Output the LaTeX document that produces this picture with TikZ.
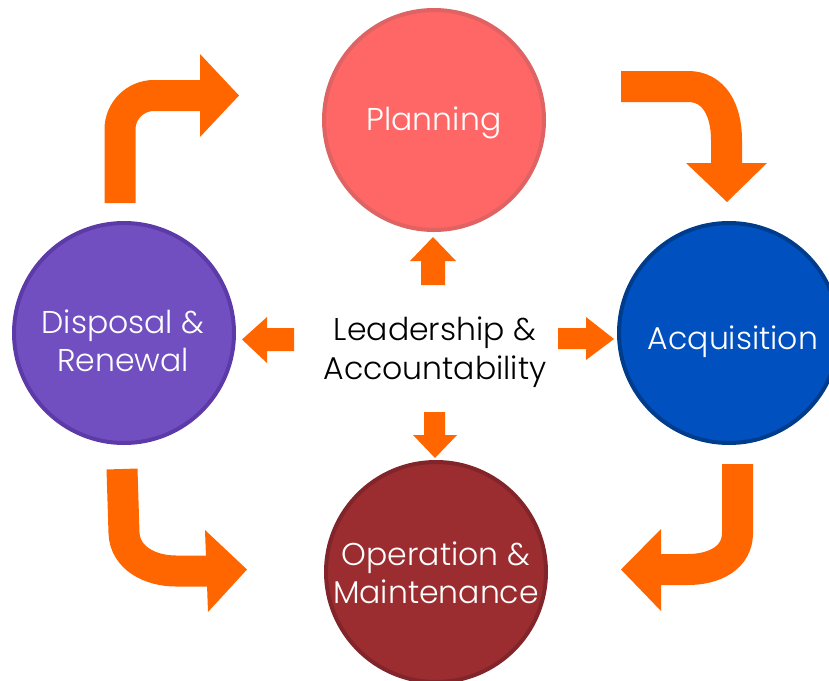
\documentclass[tikz,border=0pt]{standalone}
\usepackage{fontspec}
\setmainfont{Poppins}[UprightFont={* Light}]
\begin{document}
\definecolor{arroworange}{HTML}{FF6600}
\definecolor{planfill}{HTML}{FF6666}
\definecolor{planline}{HTML}{E06363}
\definecolor{acqfill}{HTML}{0050BF}
\definecolor{acqline}{HTML}{003C8C}
\definecolor{dispfill}{HTML}{714FC0}
\definecolor{displine}{HTML}{5C3BA8}
\definecolor{opfill}{HTML}{9B2D30}
\definecolor{opline}{HTML}{82252A}
\begin{tikzpicture}[x=1pt,y=-1pt,
  stage/.style={circle,minimum size=220pt,inner sep=0pt,line width=4pt},
  stagetext/.style={text=white,align=center,inner sep=0pt,
    font=\fontsize{31.5}{38}\selectfont},
  bentshaft/.style={draw=arroworange,line width=31pt,line cap=butt},
  blockhead/.style={fill=arroworange},
  hub/.style={align=center,text=black,inner sep=0pt,
    font=\fontsize{31.5}{39}\selectfont}]
\useasboundingbox (0,0) rectangle (829,680);
\clip (0,0) rectangle (829,680);

% the four stages of the cycle
\node[stage,fill=planfill,draw=planline] (plan) at (434,120) {};
\node[stage,fill=acqfill,draw=acqline] (acq) at (729,333) {};
\node[stage,fill=dispfill,draw=displine] (disp) at (124,333) {};
\node[stage,fill=opfill,draw=opline] (op) at (436,572) {};

\node[stagetext] (plantext) at ([shift={(0,3)}]plan.center) {Planning};
\node[stagetext] (acqtext) at ([shift={(4,9)}]acq.center) {Acquisition};
\node[stagetext] (disptext) at ([shift={(-1,8)}]disp.center) {Disposal \&\\Renewal};
\node[stagetext] (optext) at ([shift={(0,1)}]op.center) {Operation \&\\Maintenance};

% centre label
\node[hub] (lead) at (435,352) {Leadership \&\\Accountability};

% block arrows from the centre to each stage
\fill[blockhead] (421,285) -- (421,261) -- (410,261) -- (433,237) -- (456,261) -- (445,261) -- (445,285) -- cycle;
\fill[blockhead] (294,328) -- (267,328) -- (267,317) -- (242,339.5) -- (267,363) -- (267,351) -- (294,351) -- cycle;
\fill[blockhead] (558,328) -- (586,328) -- (586,317) -- (614,339) -- (586,360) -- (586,349) -- (558,349) -- cycle;
\fill[blockhead] (424,412) -- (445,412) -- (445,435) -- (457,435) -- (435,458) -- (413,435) -- (424,435) -- cycle;

% bent arrows around the cycle
% disposal -> planning
\draw[bentshaft,rounded corners=34pt] (120,203) -- (120,95.5) -- (201,95.5);
\fill[blockhead] (200,54) -- (239,95.5) -- (200,137) -- cycle;
% planning -> acquisition
\draw[bentshaft] (621,86.5) -- (688,86.5) .. controls (714,86.5) and (726.5,110) .. (726.5,140) -- (726.5,164);
\fill[blockhead] (686,163) -- (767,163) -- (727,202) -- cycle;
% acquisition -> operation
\draw[bentshaft] (737.5,464) -- (737.5,533) .. controls (737.5,558) and (714,569.5) .. (688,569.5) -- (660,569.5);
\fill[blockhead] (661,529) -- (661,611) -- (621,569.5) -- cycle;
% disposal -> operation
\draw[bentshaft] (122,469) -- (124,533) .. controls (125,558) and (150,571) .. (176,571) -- (207,571);
\fill[blockhead] (205,530) -- (247,569.5) -- (208,612) -- cycle;
\end{tikzpicture}
\end{document}
